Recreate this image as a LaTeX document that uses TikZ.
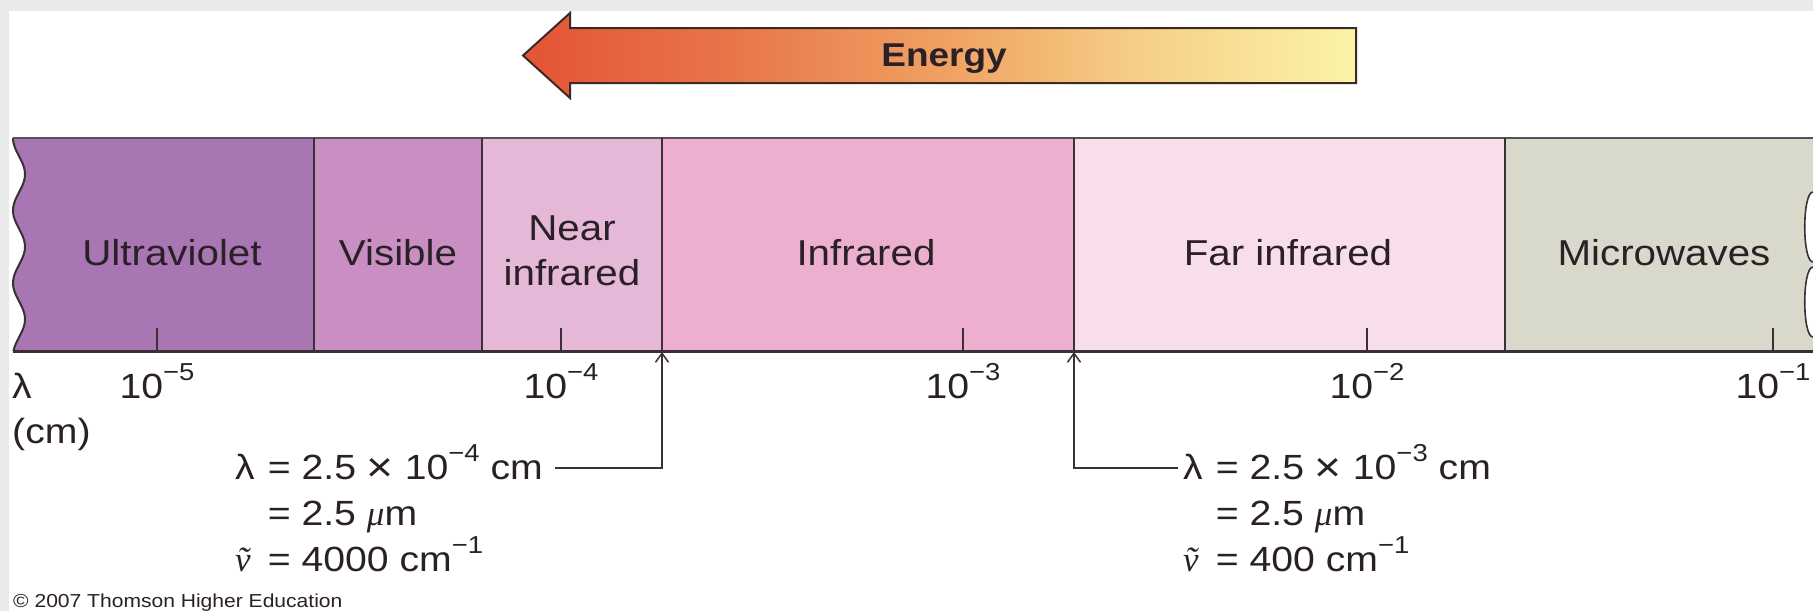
\documentclass[tikz,border=0pt]{standalone}
\usepackage{fontspec}
\setmainfont{Liberation Sans}[FakeStretch=1.12]
\newfontfamily\grki{Liberation Serif Italic}
\usetikzlibrary{arrows.meta}
\definecolor{uv}{HTML}{A876B2}
\definecolor{vis}{HTML}{C98FC2}
\definecolor{nir}{HTML}{E6B8D8}
\definecolor{irc}{HTML}{EDAFD0}
\definecolor{fir}{HTML}{F8DEEB}
\definecolor{mw}{HTML}{D8D9CA}
\definecolor{txt}{HTML}{2A2027}
\definecolor{ln}{HTML}{3A3036}
\definecolor{topln}{HTML}{5A5058}
\definecolor{bgstrip}{HTML}{EAEAEA}
\definecolor{arrln}{HTML}{3D2A26}
\definecolor{enA}{HTML}{E35436}
\definecolor{enB}{HTML}{E87448}
\definecolor{enC}{HTML}{EFA062}
\definecolor{enD}{HTML}{F6CF86}
\definecolor{enE}{HTML}{FBF4A8}
\pgfdeclarehorizontalshading{energyshade}{100bp}{color(0bp)=(enA); color(25bp)=(enA); color(37bp)=(enB); color(50bp)=(enC); color(62bp)=(enD); color(75bp)=(enE); color(100bp)=(enE)}
\newcommand\supr[1]{\raisebox{0.5em}{\scalebox{0.7}{#1}}}
\newcommand\fsz[1]{\fontsize{#1}{#1}\selectfont}
\newcommand\muit{{\grki μ}}
\newcommand\nut{{\grki\ooalign{ν\cr\hidewidth ˜\hidewidth\cr}}}
\newcommand\tms{\raisebox{-0.06em}{\scalebox{1.18}{×}}}
\begin{document}
\begin{tikzpicture}[x=1pt,y=-1pt,
  bandlabel/.style={font=\fsz{36}, text=txt, anchor=base, inner sep=0pt},
  ticklabel/.style={font=\fsz{35}, text=txt, anchor=base, inner sep=0pt},
  annot/.style={font=\fsz{35}, text=txt, anchor=base west, inner sep=0pt},
  annarrow/.style={draw=ln, line width=1.5pt, -{Straight Barb[length=9pt,width=13pt]}},
  divider/.style={draw=ln, line width=2pt},
  tickmark/.style={draw=ln, line width=1.6pt}]
% background
\fill[white] (0,0) rectangle (1813,611);
\fill[bgstrip] (0,0) rectangle (1813,11);
\fill[bgstrip] (0,0) rectangle (9,611);
\useasboundingbox (0,0) rectangle (1813,611);
% energy arrow
\shadedraw[shading=energyshade, draw=arrln, line width=2pt, line join=miter]
  (523,55.5) -- (570,13) -- (570,28) -- (1356,28) -- (1356,83) -- (570,83) -- (570,98) -- cycle;
\node[font=\fsz{33}\bfseries, text=txt, anchor=base, inner sep=0pt] (energy) at (944,66) {Energy};
% band fills
\fill[uv] plot[domain=138:351, samples=90] ({19-6*cos((\x-138)*4.9655)},{\x}) -- (314,351) -- (314,138) -- cycle;
\fill[vis] (314,138) rectangle (482,351);
\fill[nir] (482,138) rectangle (662,351);
\fill[irc] (662,138) rectangle (1074,351);
\fill[fir] (1074,138) rectangle (1505,351);
\fill[mw] (1505,138) rectangle (1813,351);
% right torn edge
\filldraw[fill=white, draw=ln, line width=1.6pt] (1813,192) .. controls (1802,192) and (1802,262) .. (1813,262);
\filldraw[fill=white, draw=ln, line width=1.6pt] (1813,267) .. controls (1802,267) and (1802,337) .. (1813,337);
% outline
\draw[ln, line width=2pt] plot[domain=138:351, samples=90] ({19-6*cos((\x-138)*4.9655)},{\x});
\draw[topln, line width=2pt] (13,138) -- (1813,138);
\draw[ln, line width=3pt] (13,351) -- (1813,351);
\draw[divider] (314,138) -- (314,351);
\draw[divider] (482,138) -- (482,351);
\draw[divider] (662,138) -- (662,351);
\draw[divider] (1074,138) -- (1074,351);
\draw[divider] (1505,138) -- (1505,351);
% ticks
\foreach \t in {157,561,963,1367,1773} \draw[tickmark] (\t,328) -- (\t,351);
% band labels
\node[bandlabel] (uvl) at (172,265) {Ultraviolet};
\node[bandlabel] (visl) at (398,265) {Visible};
\node[bandlabel] (nirl1) at (572,240) {Near};
\node[bandlabel] (nirl2) at (572,285) {infrared};
\node[bandlabel] (irl) at (866,265) {Infrared};
\node[bandlabel] (firl) at (1288,265) {Far infrared};
\node[bandlabel] (mwl) at (1664,265) {Microwaves};
% tick labels
\node[ticklabel] (t5) at (157,398) {10\supr{−5}};
\node[ticklabel] (t4) at (561,398) {10\supr{−4}};
\node[ticklabel] (t3) at (963,398) {10\supr{−3}};
\node[ticklabel] (t2) at (1367,398) {10\supr{−2}};
\node[ticklabel] (t1) at (1773,398) {10\supr{−1}};
\node[ticklabel, anchor=base west] (lam) at (12,398) {λ};
\node[ticklabel, anchor=base west] (cm) at (12,443) {(cm)};
% annotations
\node[annot] (annL1) at (235,479) {\makebox[0.62em][l]{λ} = 2.5 \tms{} 10\supr{−4} cm};
\node[annot] (annL2) at (235,525) {\hspace*{0.62em} = 2.5 \muit m};
\node[annot] (annL3) at (235,571) {\makebox[0.62em][l]{\nut} = 4000 cm\supr{−1}};
\node[annot] (annR1) at (1183,479) {\makebox[0.62em][l]{λ} = 2.5 \tms{} 10\supr{−3} cm};
\node[annot] (annR2) at (1183,525) {\hspace*{0.62em} = 2.5 \muit m};
\node[annot] (annR3) at (1183,571) {\makebox[0.62em][l]{\nut} = 400 cm\supr{−1}};
\coordinate (tL) at (662,352);
\coordinate (tR) at (1074,352);
\draw[annarrow] ([shift={(12,-11)}]annL1.base east) -| (tL);
\draw[annarrow] ([shift={(-5,-11)}]annR1.base west) -| (tR);
% copyright
\node[font=\fsz{18.8}, text=txt, anchor=base west, inner sep=0pt] (copy) at (13,607) {© 2007 Thomson Higher Education};
\end{tikzpicture}
\end{document}
